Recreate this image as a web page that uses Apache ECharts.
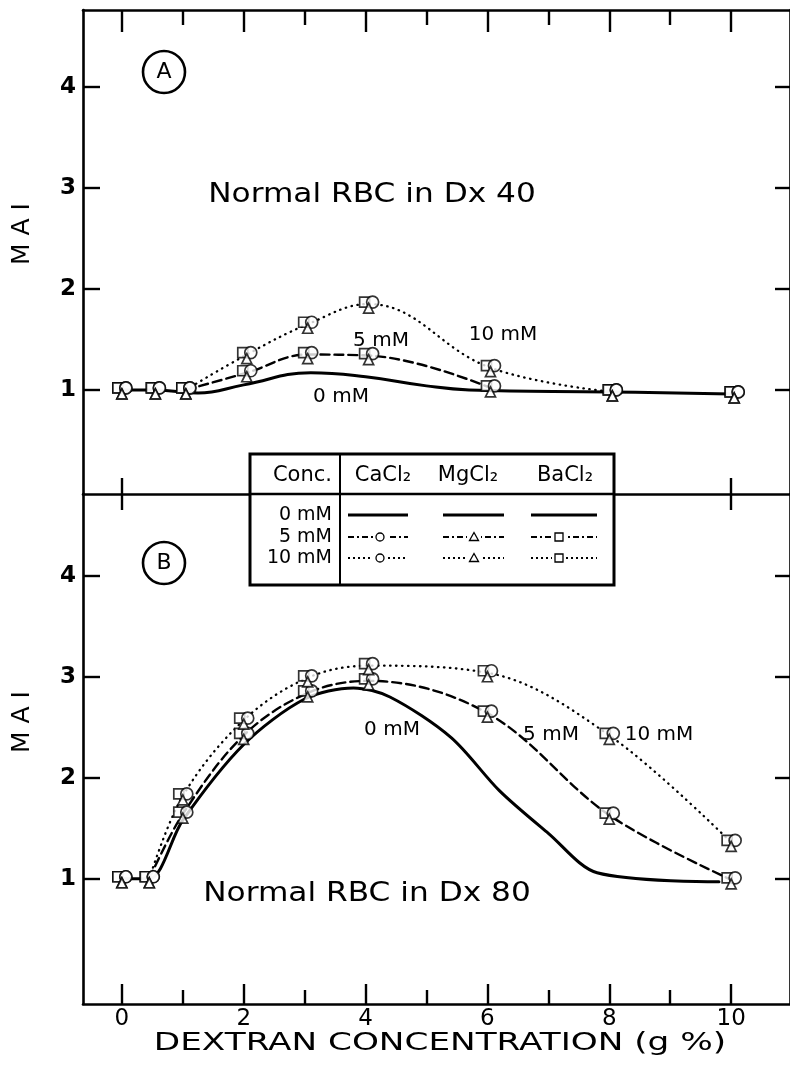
<!DOCTYPE html>
<html><head><meta charset="utf-8">
<script src="https://cdn.jsdelivr.net/npm/echarts@6/dist/echarts.min.js"></script>
<style>html,body{margin:0;padding:0;background:#fff}#c{width:790px;height:1070px}</style>
</head><body><div id="c"></div>
<script>
// ---------- data ----------
const xMajorTicks = [0, 2, 4, 6, 8, 10];
const xMinorTicks = [1, 3, 5, 7, 9];
const xEdgeTicks = [0, 10];
const yTicks = [1, 2, 3, 4];

// Panel A: Dx 40
const xA = [0, 0.55, 1.05, 2.05, 3.05, 4.05, 6.05, 8.05, 10.05];
const a5mM = [1.0, 1.0, 1.0, 1.17, 1.35, 1.34, 1.02, 0.98, 0.96];
const a10mM = [1.0, 1.0, 1.0, 1.35, 1.65, 1.85, 1.22, 0.98, 0.96];
const a0x = [0, 0.55, 1.25, 2, 3.1, 4, 5, 5.7, 8, 10];
const a0mM = [1.0, 1.0, 0.97, 1.05, 1.17, 1.13, 1.04, 1.0, 0.98, 0.96];

// Panel B: Dx 80
const xB = [0, 0.45, 1, 2, 3.05, 4.05, 6, 8, 10];
const b5mM = [1.0, 1.0, 1.64, 2.42, 2.84, 2.96, 2.64, 1.63, 0.99];
const b10mM = [1.0, 1.0, 1.82, 2.57, 2.99, 3.11, 3.04, 2.42, 1.36];
const b0x = [0, 0.45, 1, 2, 3, 3.8, 4.4, 5.4, 6.2, 7, 7.8, 9.8];
const b0mM = [1.0, 1.0, 1.58, 2.33, 2.78, 2.89, 2.8, 2.4, 1.87, 1.45, 1.06, 0.97];

const legendRows = ['0 mM', '5 mM', '10 mM'];
const legendCols = ['CaCl\u2082', 'MgCl\u2082', 'BaCl\u2082'];

// ---------- helpers ----------
const F = 'DejaVu Sans';
const K = '#000';
const pts = (xs, ys) => xs.map((x, i) => [x, ys[i]]);
const X_MIN = -0.638, X_MAX = 10.966;

function xAx(grid, pos, ticks, len, showLine, labels) {
  return {
    type: 'value', gridIndex: grid, position: pos, min: X_MIN, max: X_MAX,
    axisLine: {show: showLine, onZero: false, lineStyle: {color: K, width: 2.6}},
    axisTick: {show: true, inside: true, length: len, customValues: ticks, lineStyle: {color: K, width: 2.4}},
    axisLabel: labels ? {show: true, customValues: labels, color: K, fontFamily: F, fontSize: 23, margin: 4} : {show: false},
    splitLine: {show: false}
  };
}
function yAx(grid, pos, min, max, labels) {
  return {
    type: 'value', gridIndex: grid, position: pos, min: min, max: max,
    axisLine: {show: true, onZero: false, lineStyle: {color: K, width: 2.6}},
    axisTick: {show: true, inside: true, length: pos === 'left' ? 17 : 15, customValues: yTicks, lineStyle: {color: K, width: 2.4}},
    axisLabel: labels ? {show: true, customValues: yTicks, color: K, fontFamily: F, fontSize: 23, fontWeight: 'bold', margin: 7} : {show: false},
    splitLine: {show: false}
  };
}
function lineS(xi, yi, data, type, width, smooth) {
  return {
    type: 'line', xAxisIndex: xi, yAxisIndex: yi, data: data, smooth: smooth, showSymbol: false, symbol: 'none',
    lineStyle: {color: K, width: width, type: type, cap: 'round'}, z: 2, silent: true
  };
}
function markS(xi, yi, data, sym, size, off) {
  return {
    type: 'scatter', xAxisIndex: xi, yAxisIndex: yi, data: data, symbol: sym, symbolSize: size, symbolOffset: off,
    itemStyle: {color: '#fff', borderColor: K, borderWidth: 1.7}, z: 5, silent: true
  };
}
function markers(xi, yi, data) {
  return [
    markS(xi, yi, data, 'rect', 10, [-4, -2]),
    markS(xi, yi, data, 'circle', 12, [4, -2]),
    markS(xi, yi, data, 'triangle', 10, [0, 4])
  ];
}

const A5 = pts(xA, a5mM), A10 = pts(xA, a10mM);
const B5 = pts(xB, b5mM), B10 = pts(xB, b10mM);
const DOT = [0.5, 5.5], DASH = [9, 5];

const series = [
  lineS(0, 0, pts(a0x, a0mM), 'solid', 3, 0.45),
  lineS(0, 0, A5.slice(2, 7), DASH, 2.4, 0.4),
  lineS(0, 0, A10.slice(2, 8), DOT, 2.3, 0.4),
  ...markers(0, 0, A5.concat(A10)),
  lineS(4, 2, pts(b0x, b0mM), 'solid', 3, 0.3),
  lineS(4, 2, B5.slice(1), DASH, 2.4, 0.35),
  lineS(4, 2, B10.slice(1), DOT, 2.3, 0.35),
  ...markers(4, 2, B5.concat(B10))
];

// ---------- graphic (labels, legend table) ----------
function txt(x, y, text, size, opt) {
  opt = opt || {};
  return {
    type: 'text', x: x, y: y, rotation: opt.rot || 0, scaleX: opt.sx || 1, z: 50,
    style: {text: text, fill: K, font: (opt.w || 'normal') + ' ' + size + 'px "' + F + '"',
      textAlign: opt.align || 'center', textVerticalAlign: 'middle'}
  };
}
function circ(x, y, r) {
  return {type: 'circle', shape: {cx: x, cy: y, r: r}, style: {fill: 'none', stroke: K, lineWidth: 2.6}, z: 50};
}
function seg(x1, y1, x2, y2, w, dash) {
  return {type: 'line', shape: {x1: x1, y1: y1, x2: x2, y2: y2}, style: {stroke: K, lineWidth: w, lineDash: dash || null}, z: 52};
}
function sym(kind, x, y) {
  const st = {fill: '#fff', stroke: K, lineWidth: 1.3};
  if (kind === 0) return {type: 'circle', shape: {cx: x, cy: y, r: 4}, style: st, z: 53};
  if (kind === 1) return {type: 'polygon', shape: {points: [[x, y - 4.5], [x - 4.5, y + 3.5], [x + 4.5, y + 3.5]]}, style: st, z: 53};
  return {type: 'rect', shape: {x: x - 4, y: y - 4, width: 8, height: 8}, style: st, z: 53};
}

const TL = 250, TR = 614, TT = 454, TB = 585, TD = 340, TH = 494;
const colSpans = [[348, 408, 380], [443, 504, 474], [531, 597, 559]];
const colText = [383, 468, 565];
const rowY = [515, 537, 558];

const g = [
  {type: 'rect', shape: {x: TL, y: TT, width: TR - TL, height: TB - TT}, style: {fill: '#fff', stroke: K, lineWidth: 3}, z: 49},
  seg(TL, TH, TR, TH, 2.6), seg(TD, TT, TD, TB, 2),
  txt(332, 476, 'Conc.', 21, {align: 'right'}),
  txt(22, 234, 'M A I', 25, {rot: Math.PI / 2}),
  txt(22, 722, 'M A I', 25, {rot: Math.PI / 2}),
  circ(164, 72, 21), txt(164, 72, 'A', 22),
  circ(164, 563, 21), txt(164, 563, 'B', 22),
  txt(372, 195, 'Normal RBC in Dx 40', 26, {sx: 1.2}),
  txt(367, 894, 'Normal RBC in Dx 80', 26, {sx: 1.2}),
  txt(381, 341, '5 mM', 20),
  txt(503, 335, '10 mM', 20),
  txt(341, 397, '0 mM', 20),
  txt(551, 735, '5 mM', 20),
  txt(659, 735, '10 mM', 20),
  txt(392, 730, '0 mM', 20),
  txt(440, 1043, 'DEXTRAN CONCENTRATION (g %)', 25, {sx: 1.37})
];
legendCols.forEach((c, i) => g.push(txt(colText[i], 476, c, 21)));
legendRows.forEach((r, j) => g.push(txt(332, rowY[j], r, 19, {align: 'right'})));
colSpans.forEach((s, i) => {
  g.push(seg(s[0], rowY[0], s[1], rowY[0], 3));
  g.push(seg(s[0], rowY[1], s[1], rowY[1], 2, [6, 3, 2, 3]));
  g.push(seg(s[0], rowY[2], s[1], rowY[2], 2, [2, 3]));
  g.push({type: 'rect', shape: {x: s[2] - 7, y: rowY[1] - 6, width: 14, height: 12}, style: {fill: '#fff'}, z: 52});
  g.push({type: 'rect', shape: {x: s[2] - 7, y: rowY[2] - 6, width: 14, height: 12}, style: {fill: '#fff'}, z: 52});
  g.push(sym(i, s[2], rowY[1]));
  g.push(sym(i, s[2], rowY[2]));
});

const option = {
  backgroundColor: '#fff',
  animation: false,
  grid: [
    {left: 83, top: 10, width: 709, height: 484},
    {left: 83, top: 494, width: 709, height: 510}
  ],
  xAxis: [
    xAx(0, 'top', xMajorTicks, 22, true, null),
    xAx(0, 'top', xMinorTicks, 15, false, null),
    xAx(0, 'bottom', xEdgeTicks, 16, true, null),
    xAx(1, 'top', xEdgeTicks, 16, false, null),
    xAx(1, 'bottom', xMajorTicks, 20, true, xMajorTicks),
    xAx(1, 'bottom', xMinorTicks, 14, false, null)
  ],
  yAxis: [
    yAx(0, 'left', -0.03, 4.76, true),
    yAx(0, 'right', -0.03, 4.76, false),
    yAx(1, 'left', -0.24, 4.81, true),
    yAx(1, 'right', -0.24, 4.81, false)
  ],
  series: series,
  graphic: g
};
const chart = echarts.init(document.getElementById('c'));
chart.setOption(option);
</script></body></html>
